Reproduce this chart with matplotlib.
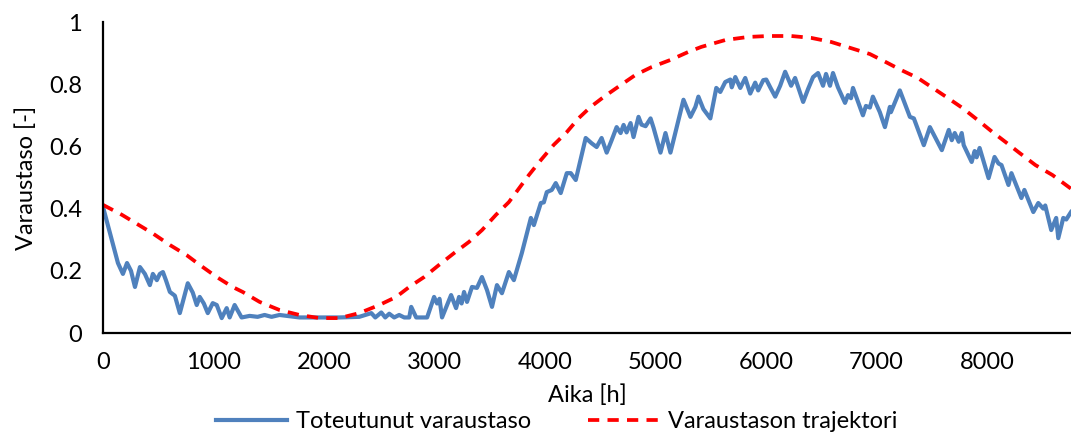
import numpy as np
import matplotlib.pyplot as plt

plt.rcParams['font.family'] = ['Lato', 'DejaVu Sans']

# realised storage level (hours, level)
toteutunut_h = [0, 135, 180, 217, 253, 289, 334, 379, 424, 451, 487, 514, 542, 569, 605, 650,
                695, 767, 812, 848, 875, 912, 948, 993, 1029, 1074, 1119, 1146, 1191, 1254,
                1327, 1399, 1462, 1525, 1597, 1688, 1778, 1958, 2139, 2319, 2428, 2464, 2518,
                2554, 2590, 2635, 2680, 2726, 2771, 2789, 2834, 2933, 2996, 3023, 3045, 3068,
                3150, 3195, 3222, 3245, 3267, 3294, 3339, 3384, 3429, 3475, 3520, 3565, 3610,
                3673, 3718, 3790, 3872, 3899, 3962, 3989, 4016, 4061, 4097, 4142, 4197, 4233,
                4278, 4368, 4422, 4467, 4512, 4558, 4603, 4648, 4684, 4711, 4738, 4774, 4801,
                4846, 4873, 4910, 4955, 4982, 5045, 5090, 5135, 5253, 5316, 5361, 5388, 5433,
                5496, 5550, 5586, 5631, 5677, 5690, 5722, 5767, 5812, 5857, 5902, 5929, 5975,
                6002, 6038, 6083, 6128, 6173, 6227, 6263, 6336, 6381, 6426, 6471, 6516, 6543,
                6579, 6606, 6651, 6715, 6742, 6769, 6787, 6877, 6904, 6940, 6967, 7030, 7076,
                7121, 7130, 7211, 7302, 7338, 7428, 7483, 7591, 7654, 7681, 7708, 7744, 7771,
                7789, 7861, 7888, 7906, 7933, 8014, 8068, 8104, 8131, 8194, 8221, 8311, 8338,
                8419, 8464, 8509, 8527, 8581, 8626, 8645, 8690, 8717, 8760]
toteutunut = [0.405, 0.225, 0.19, 0.225, 0.2, 0.148, 0.212, 0.19, 0.154, 0.19, 0.17, 0.19, 0.196,
              0.17, 0.132, 0.12, 0.064, 0.16, 0.13, 0.09, 0.116, 0.095, 0.064, 0.096, 0.09, 0.048,
              0.08, 0.05, 0.09, 0.05, 0.055, 0.052, 0.058, 0.052, 0.058, 0.054, 0.05, 0.05, 0.05,
              0.052, 0.064, 0.05, 0.066, 0.05, 0.062, 0.05, 0.058, 0.05, 0.05, 0.084, 0.05, 0.05,
              0.116, 0.095, 0.11, 0.05, 0.122, 0.08, 0.116, 0.095, 0.132, 0.1, 0.148, 0.145, 0.18,
              0.138, 0.084, 0.154, 0.128, 0.196, 0.17, 0.257, 0.37, 0.347, 0.418, 0.42, 0.453,
              0.46, 0.482, 0.45, 0.514, 0.514, 0.492, 0.627, 0.61, 0.598, 0.627, 0.58, 0.62, 0.662,
              0.643, 0.669, 0.645, 0.675, 0.63, 0.695, 0.67, 0.665, 0.69, 0.66, 0.58, 0.643, 0.58,
              0.75, 0.695, 0.727, 0.76, 0.72, 0.69, 0.788, 0.775, 0.807, 0.815, 0.79, 0.823, 0.788,
              0.82, 0.77, 0.805, 0.78, 0.813, 0.815, 0.79, 0.76, 0.795, 0.84, 0.795, 0.82, 0.743,
              0.785, 0.823, 0.836, 0.795, 0.833, 0.795, 0.836, 0.79, 0.74, 0.765, 0.755, 0.788,
              0.7, 0.73, 0.725, 0.76, 0.71, 0.662, 0.727, 0.71, 0.78, 0.695, 0.69, 0.604, 0.662,
              0.588, 0.653, 0.62, 0.643, 0.615, 0.643, 0.604, 0.55, 0.585, 0.565, 0.595, 0.498,
              0.566, 0.545, 0.54, 0.476, 0.514, 0.434, 0.46, 0.389, 0.418, 0.40, 0.41, 0.331,
              0.37, 0.305, 0.37, 0.365, 0.389]

# target trajectory (hours, level)
trajektori_h = [0, 171, 451, 605, 758, 875, 1029, 1173, 1264, 1417, 1597, 1778, 1958, 2139,
                2319, 2500, 2653, 2771, 2906, 3041, 3177, 3312, 3430, 3556, 3673, 3854, 3962,
                4079, 4197, 4305, 4413, 4531, 4684, 4819, 4964, 5135, 5298, 5415, 5631, 5839,
                6020, 6227, 6408, 6588, 6769, 6940, 7085, 7220, 7374, 7509, 7644, 7780, 7915,
                8050, 8168, 8294, 8438, 8592, 8760]
trajektori = [0.412, 0.38, 0.32, 0.283, 0.25, 0.219, 0.18, 0.148, 0.132, 0.1, 0.074, 0.058,
              0.048, 0.048, 0.064, 0.09, 0.116, 0.148, 0.18, 0.219, 0.257, 0.293, 0.331, 0.38,
              0.421, 0.508, 0.556, 0.605, 0.646, 0.691, 0.727, 0.759, 0.797, 0.83, 0.855, 0.878,
              0.904, 0.92, 0.942, 0.952, 0.955, 0.955, 0.949, 0.936, 0.916, 0.897, 0.871, 0.846,
              0.82, 0.788, 0.756, 0.723, 0.685, 0.646, 0.614, 0.579, 0.54, 0.508, 0.464]

fig = plt.figure(figsize=(10.71, 4.34), dpi=100)
ax = fig.add_axes([0.0962, 0.2327, 0.9038, 0.7166])

ax.plot(toteutunut_h, toteutunut, color='#4F81BD', linewidth=3.0, solid_joinstyle='round',
        label='Toteutunut varaustaso')
ax.plot(trajektori_h, trajektori, color='#FF0000', linewidth=2.7, linestyle=(0, (3, 2.2)),
        label='Varaustason trajektori')

ax.set_xlim(0, 8760)
ax.set_ylim(0, 1)
ax.set_xticks(np.arange(0, 9000, 1000))
ax.set_yticks([0, 0.2, 0.4, 0.6, 0.8, 1])
ax.set_yticklabels(['0', '0.2', '0.4', '0.6', '0.8', '1'])
ax.tick_params(length=0, labelsize=17)
ax.tick_params(axis='y', pad=15)
ax.tick_params(axis='x', pad=14)
for s in ['top', 'right']:
    ax.spines[s].set_visible(False)
for s in ['left', 'bottom']:
    ax.spines[s].set_linewidth(1.6)
ax.set_xlabel('Aika [h]', fontsize=17, labelpad=8)
ax.set_ylabel('Varaustaso [-]', fontsize=17, labelpad=9)

fig.legend(*ax.get_legend_handles_labels(), loc='center', bbox_to_anchor=(0.52, 0.028),
           ncol=2, frameon=False, fontsize=17, handlelength=3.0, handletextpad=0.4,
           columnspacing=2.4, borderpad=0)

fig.savefig('out.png', dpi=100)
